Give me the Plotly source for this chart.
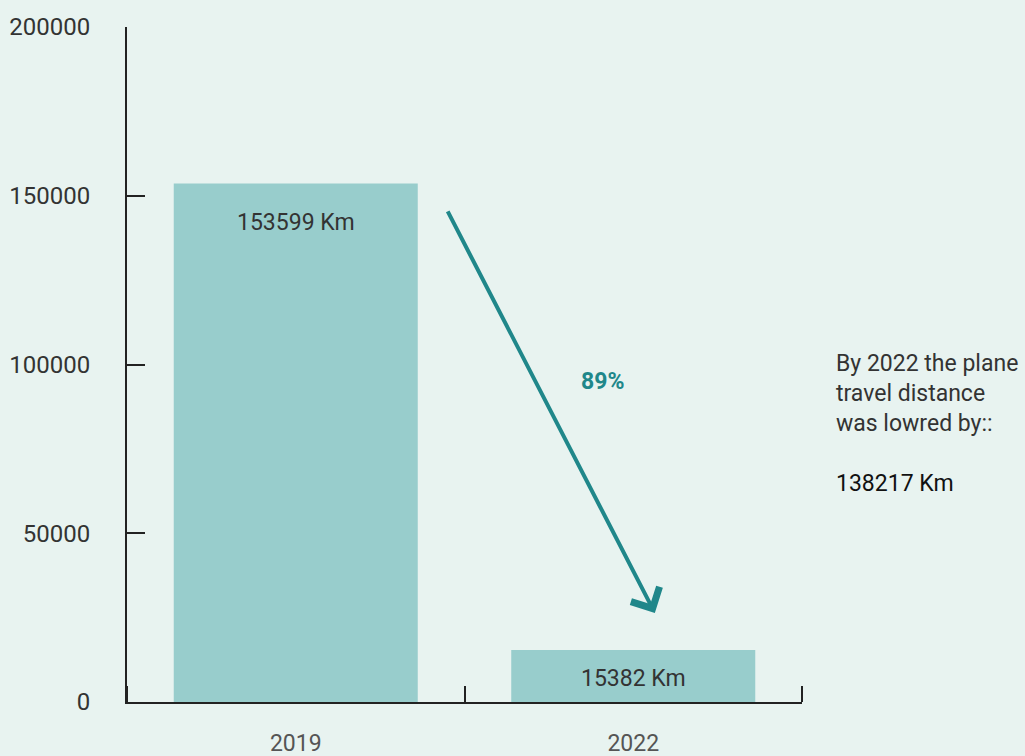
import plotly.graph_objects as go

years = ["2019", "2022"]
distances = [153599, 15382]
bar_labels = ["153599 Km", "15382 Km"]
label_shifts = [-23, -13]
y_ticks = [0, 50000, 100000, 150000, 200000]
boundary_ticks = [-0.5, 0.5, 1.5]
pct_text = "89%"
side_text = ("By 2022 the plane<br>travel distance<br>was lowred by::<br><br>"
             "<span style='color:#111111'>138217 Km</span>")

# arrow anchor positions (data coords, category index on x)
arrow_tail = (0.448, 145800)
arrow_head = (1.064, 26400)
pct_pos = (0.91, 95100)

BG = "#e8f3f0"
BAR = "#98cdcc"
TEAL = "#20878a"
AX = "#222222"

fig = go.Figure()
fig.add_trace(go.Bar(x=years, y=distances, marker=dict(color=BAR, line=dict(width=0)),
                     hoverinfo="skip"))
# invisible helper trace so the boundary-tick axis is drawn
fig.add_trace(go.Scatter(x=boundary_ticks, y=[0] * len(boundary_ticks), xaxis="x2",
                         mode="markers", marker=dict(opacity=0, size=1), hoverinfo="skip",
                         showlegend=False))

for i, (y, t, s) in enumerate(zip(distances, bar_labels, label_shifts)):
    fig.add_annotation(x=i, y=y, text=t, showarrow=False, yanchor="top", yshift=s,
                       font=dict(family="Roboto", size=23, color="#333333"))

fig.add_annotation(x=arrow_head[0], y=arrow_head[1], ax=arrow_tail[0], ay=arrow_tail[1],
                   xref="x", yref="y", axref="x", ayref="y", text="", showarrow=True,
                   arrowhead=4, arrowsize=1.55, arrowwidth=4, arrowcolor=TEAL)
fig.add_annotation(x=pct_pos[0], y=pct_pos[1], text="<b>" + pct_text + "</b>", showarrow=False,
                   font=dict(family="Roboto", size=23, color=TEAL))
fig.add_annotation(xref="paper", yref="paper", x=1.047, y=0.524, xanchor="left", yanchor="top",
                   align="left", text=side_text, showarrow=False,
                   font=dict(family="Roboto", size=23, color="#333333"))

fig.update_layout(
    width=1025, height=756,
    margin=dict(l=127, r=223, t=27, b=54),
    paper_bgcolor=BG, plot_bgcolor=BG,
    bargap=0.277, showlegend=False,
    font=dict(family="Roboto", color="#333333"),
    xaxis=dict(type="category", range=[-0.5, 1.5], showline=True, linecolor=AX,
               linewidth=2, ticks="", automargin=False, ticklabelstandoff=19,
               showgrid=False, tickangle=0,
               tickfont=dict(family="Roboto", size=23, color="#555555")),
    xaxis2=dict(overlaying="x", anchor="free", position=0, side="top", range=[-0.5, 1.5],
                tickvals=boundary_ticks, ticks="outside", ticklen=16, tickwidth=2,
                tickcolor=AX, showticklabels=False, showgrid=False, zeroline=False,
                showline=False, automargin=False),
    yaxis=dict(range=[0, 200000], tickvals=y_ticks, tickformat="d", showline=True,
               linecolor=AX, linewidth=2, automargin=False,
               ticks="inside", ticklen=18, tickwidth=2, tickcolor=AX, showgrid=False,
               zeroline=False, ticklabelstandoff=30,
               tickfont=dict(family="Roboto", size=24, color="#333333")),
)

fig.write_html("out.html", config={"displayModeBar": False},
               post_script="document.body.style.margin='0';document.body.style.background='#e8f3f0';")
